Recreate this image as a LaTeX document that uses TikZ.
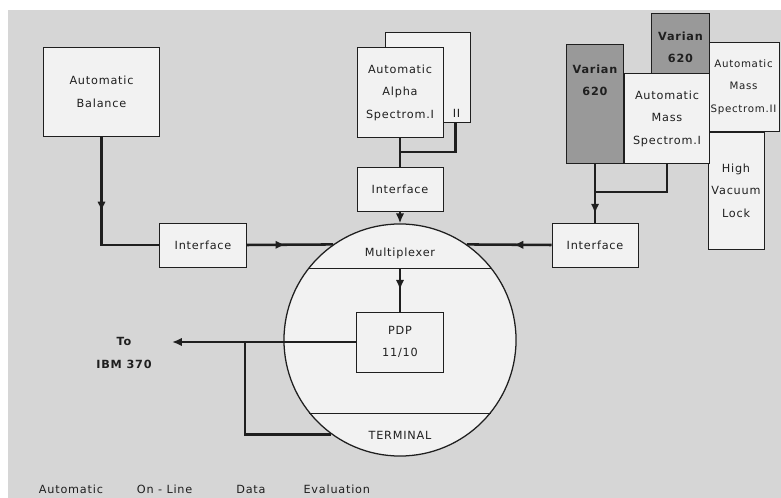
\documentclass[tikz,border=0pt]{standalone}
\usepackage{fontspec}
\usepackage{tikz}
\usetikzlibrary{arrows.meta, positioning, calc, decorations.markings}
\newfontfamily\letfont[LetterSpace=7]{DejaVu Sans}
\definecolor{paper}{gray}{0.84}
\definecolor{boxgray}{gray}{0.95}
\definecolor{vargray}{gray}{0.6}
\definecolor{inkgray}{gray}{0.12}

\begin{document}
\begin{tikzpicture}[
		x=0.025cm, y=-0.025cm,
		>={Latex[length=7pt, width=6pt]},
		txt/.style={font=\letfont\fontsize{8}{16}\selectfont, align=center, text=inkgray},
		vartxt/.style={txt, font=\letfont\bfseries\fontsize{8}{16}\selectfont, inner sep=0pt},
		box/.style={txt, draw=inkgray, line width=0.7pt, fill=boxgray, inner sep=0pt},
		iface/.style={box, minimum width=2.15cm, minimum height=1.1cm},
		varbox/.style={box, fill=vargray},
		wire/.style={draw=inkgray, line width=1.8pt},
		arr/.style={wire, ->},
		midarr/.style={wire, postaction={decorate}, decoration={markings,
			mark=at position #1 with {\arrow{Latex[length=7pt, width=6pt]}}}},
	]
		% paper
		\useasboundingbox (0,0) rectangle (781,498);
		\fill[paper] (8,10) rectangle (781,498);

		% balance
		\node[box, minimum width=2.875cm, minimum height=2.2cm] (balance) at (101.5,92) {Automatic\\Balance};
		\node[iface] (ifaceL) at (203,245) {Interface};

		% alpha spectrometers
		\node[box, minimum width=2.125cm, minimum height=2.225cm] (alphaB) at (427.5,77.5) {};
		\node[box, minimum width=2.15cm, minimum height=2.225cm] (alphaA) at (400,92.5) {Automatic\\Alpha\\Spectrom.I};
		\node[txt, inner sep=0pt] (alphaII) at ([shift={(-14,-9)}]alphaB.south east) {II};
		\node[iface, below=0.725cm of alphaA] (ifaceT) {Interface};

		% computer
		\node[circle, draw=inkgray, line width=0.9pt, fill=boxgray, minimum size=5.8cm, inner sep=0pt] (mux) at (400,340) {};
		\draw[draw=inkgray, line width=0.7pt] (mux.38) -- (mux.142);
		\draw[draw=inkgray, line width=0.7pt] (mux.-39) -- (mux.-141);
		\node[txt] (muxtext) at (400,253) {Multiplexer};
		\node[txt] (termtext) at (400,435) {TERMINAL};
		\node[box, minimum width=2.175cm, minimum height=1.5cm] (pdp) at (400,342) {PDP\\11/10};
		\node[txt, font=\letfont\bfseries\fontsize{8}{16}\selectfont] (ibm) at (124,353) {To\\IBM 370};

		% mass spectrometers
		\node[box, minimum width=1.775cm, minimum height=2.2cm, font=\letfont\fontsize{7.3}{16}\selectfont] (massB) at (743.5,87) {Automatic\\Mass\\Spectrom.II};
		\node[box, anchor=north west, minimum width=1.4cm, minimum height=2.925cm] (lock) at (massB.south west) {High\\Vacuum\\Lock};
		\node[varbox, minimum width=1.425cm, minimum height=2.95cm] (varA) at (595,104) {};
		\node[vartxt, below=0.5cm of varA.north] (varAtext) {Varian\\620};
		\node[box, anchor=south west, minimum width=2.125cm, minimum height=2.225cm] (massA) at (varA.south east) {Automatic\\Mass\\Spectrom.I};
		\node[varbox, anchor=south east, minimum width=1.45cm, minimum height=1.475cm] (varB) at (massA.north east) {};
		\node[vartxt, below=0.45cm of varB.north] (varBtext) {Varian\\620};
		\node[iface] (ifaceR) at (595,245) {Interface};

		% connectors
		\draw[midarr=0.45] (balance.south) |- (ifaceL.west);
		\draw[midarr=0.45] (ifaceL.east) -- (mux.125);
		\draw[midarr=0.45] (ifaceR.west) -- (mux.55);
		\draw[wire] (alphaA.south) -- (ifaceT.north);
		\coordinate (alphaJoin) at (400,152);
		\draw[wire] ([xshift=0.7cm]alphaB.south) |- (alphaJoin);
		\draw[arr] (ifaceT.south) -- (mux.north);
		\draw[midarr=0.5] (pdp.north |- mux.38) -- (pdp.north);
		\coordinate (ibmEnd) at (172,342);
		\draw[arr] (pdp.west) -- (ibmEnd);
		\coordinate (branch) at (245,342);
		\draw[wire] (branch) |- (mux.234);
		\draw[midarr=0.85] (varA.south) -- (ifaceR.north);
		\coordinate (massJoin) at (595,192);
		\draw[wire] (massA.south) |- (massJoin);

		% caption
		\node[txt, anchor=west] (caption) at (34,489) {Automatic\hspace{0.85cm}On - Line\hspace{1.1cm}Data\hspace{0.95cm}Evaluation};
	\end{tikzpicture}
\end{document}
